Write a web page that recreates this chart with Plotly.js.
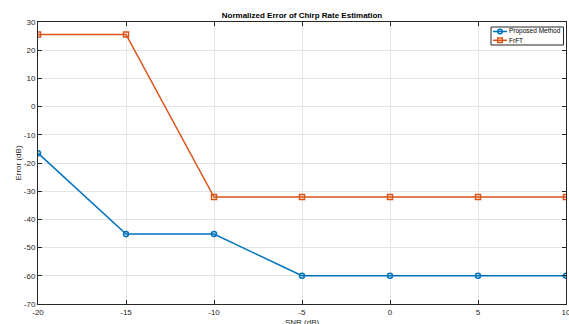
<!DOCTYPE html>
<html>
<head>
<script src="https://cdn.plot.ly/plotly-3.0.1.min.js"></script>
<style>html,body{margin:0;padding:0;background:#fff}</style>
</head>
<body>
<div id="chart" style="width:569px;height:324px"></div>
<script>
const snr = [-20, -15, -10, -5, 0, 5, 10];
const proposed = [-16.5, -45.2, -45.2, -60, -60, -60, -60];
const frft = [25.6, 25.6, -32.1, -32.1, -32.1, -32.1, -32.1];
const xTicks = [-20, -15, -10, -5, 0, 5, 10];
const xTickText = ['-20', '-15', '-10', '-5', '0', '5', '10'];
const yTicks = [-70, -60, -50, -40, -30, -20, -10, 0, 10, 20, 30];
const yTickText = ['-70', '-60', '-50', '-40', '-30', '-20', '-10', '0', '10', '20', '30'];
const seriesNames = ['Proposed Method', 'FrFT'];
const colors = ['#0072BD', '#D95319'];

const traces = [
  {x: snr, y: proposed, name: seriesNames[0], mode: 'lines+markers', showlegend: false,
   line: {color: colors[0], width: 1.5},
   marker: {symbol: 'circle-open', size: 5, color: colors[0], line: {width: 1.5}}},
  {x: snr, y: frft, name: seriesNames[1], mode: 'lines+markers', showlegend: false,
   line: {color: colors[1], width: 1.5},
   marker: {symbol: 'square-open', size: 5, color: colors[1], line: {width: 1.5}}}
];

// plot area in pixels: x 38..566, y 22..304
const L = 38, R = 566, T = 22, B = 304;
const px = v => (v - L) / (R - L);
const py = v => (B - v) / (B - T);

const shapes = [
  {type: 'rect', xref: 'paper', yref: 'paper', x0: px(491), x1: px(563.5), y0: py(45), y1: py(27),
   line: {color: '#262626', width: 1}, fillcolor: '#fff', layer: 'above'}
];
const annotations = [];
const rowsY = [31.5, 40.3];
seriesNames.forEach((n, i) => {
  shapes.push({type: 'line', xref: 'paper', yref: 'paper', x0: px(493), x1: px(507), y0: py(rowsY[i]), y1: py(rowsY[i]),
               line: {color: colors[i], width: 1.5}, layer: 'above'});
  shapes.push({type: i === 0 ? 'circle' : 'rect', xref: 'paper', yref: 'paper',
               xsizemode: 'pixel', ysizemode: 'pixel', xanchor: px(500), yanchor: py(rowsY[i]),
               x0: -2.3, x1: 2.3, y0: -2.3, y1: 2.3,
               line: {color: colors[i], width: 1.5}, fillcolor: 'rgba(0,0,0,0)', layer: 'above'});
  annotations.push({xref: 'paper', yref: 'paper', x: px(507), y: py(rowsY[i]), xanchor: 'left', yanchor: 'middle',
                    text: n, showarrow: false, font: {family: 'Liberation Sans, Arial, sans-serif', size: 6.5, color: '#000'}});
});

const axfont = {family: 'Liberation Sans, Arial, sans-serif', size: 8, color: '#262626'};
// x-axis title placed just below the tick labels (partly cut by the page edge, as in the reference)
annotations.push({xref: 'paper', yref: 'paper', x: 0.5, y: py(316.5), xanchor: 'center', yanchor: 'top',
                  text: 'SNR (dB)', showarrow: false, borderpad: 0, font: axfont});

const layout = {
  width: 569, height: 324,
  margin: {l: L, r: 569 - R, t: T, b: 324 - B},
  paper_bgcolor: '#fff', plot_bgcolor: '#fff',
  title: {text: '<b>Normalized Error of Chirp Rate Estimation</b>', xref: 'paper', x: 0.5, xanchor: 'center',
          yref: 'container', y: 0.962, yanchor: 'top',
          font: {family: 'Liberation Sans, Arial, sans-serif', size: 8, color: '#000'}},
  xaxis: {range: [-20, 10], tickvals: xTicks, ticktext: xTickText, ticks: 'inside', ticklen: 4, tickcolor: '#262626',
          showline: true, linecolor: '#262626', linewidth: 1, mirror: 'ticks', showgrid: true, gridcolor: '#e3e3e3',
          zeroline: false, tickfont: axfont, ticklabeloverflow: 'allow'},
  yaxis: {range: [-70, 30], tickvals: yTicks, ticktext: yTickText, ticks: 'inside', ticklen: 4, tickcolor: '#262626',
          showline: true, linecolor: '#262626', linewidth: 1, mirror: 'ticks', showgrid: true, gridcolor: '#e3e3e3',
          zeroline: false, tickfont: axfont,
          title: {text: 'Error (dB)', font: axfont, standoff: 1}},
  shapes: shapes,
  annotations: annotations,
  showlegend: false
};
Plotly.newPlot('chart', traces, layout, {displayModeBar: false, staticPlot: true});
</script>
</body>
</html>
